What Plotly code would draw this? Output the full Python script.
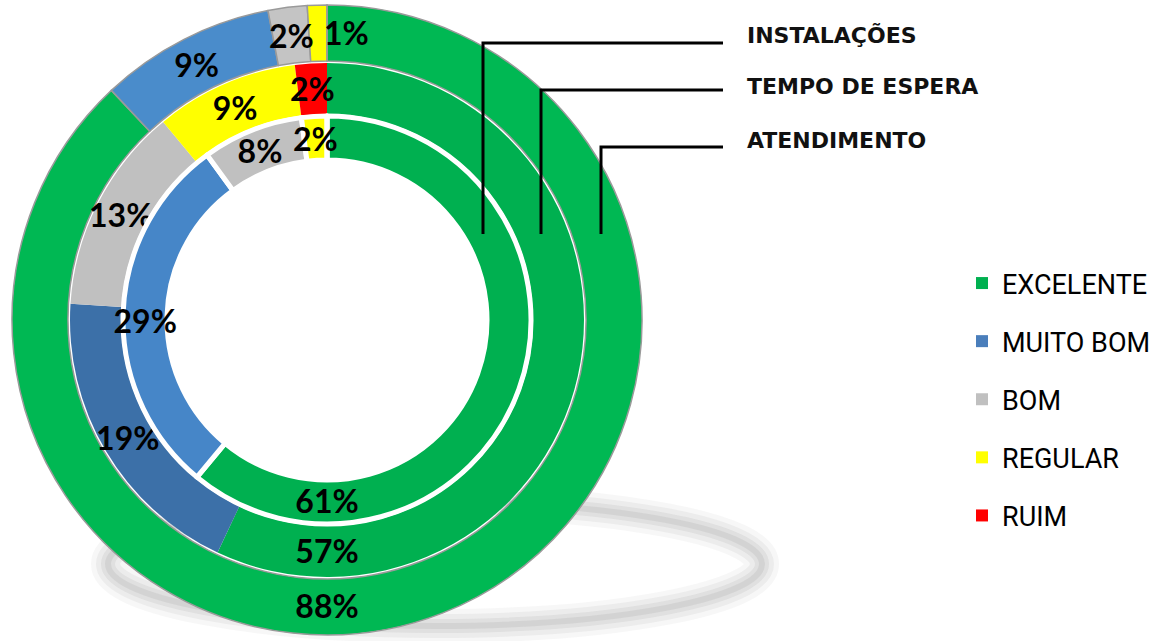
import math
import plotly.graph_objects as go

W, H = 1164, 641

categories = ["EXCELENTE", "MUITO BOM", "BOM", "REGULAR", "RUIM"]
series_names = ["INSTALAÇÕES", "TEMPO DE ESPERA", "ATENDIMENTO"]
instalacoes = [61, 29, 8, 2, 0]
tempo_espera = [57, 19, 13, 9, 2]
atendimento = [88, 9, 2, 1, 0]

legend_colors = ["#00B050", "#4A7EBB", "#C0C0C0", "#FFFF00", "#FF0000"]
inner_colors = ["#00B050", "#4686C8", "#C0C0C0", "#FFFF00", "#FF0000"]
middle_colors = ["#00B050", "#3C70A8", "#C0C0C0", "#FFFF00", "#FF0000"]
outer_colors = ["#00B853", "#4A8CCB", "#C4C4C4", "#FFFF00", "#FF0000"]

# ring geometry (pixels)
CX, CY = 327, 321  # CY measured from bottom
rings = [
    # values, colors, outer radius, hole radius, line color, line width
    (atendimento, outer_colors, 315, 259, "#9A9A9A", 1.5),
    (tempo_espera, middle_colors, 257, 206, "#00B050", 0),
    (instalacoes, inner_colors, 204, 160, "white", 5),
]
SMALL = 5
label_font = dict(family="Lato", size=32, color="black", weight="bold")


def px_dom(r):
    return dict(x=[(CX - r) / W, (CX + r) / W], y=[(CY - r) / H, (CY + r) / H])


fig = go.Figure()

# soft shadow ellipse (drawn below)
for w, a in [(34, 0.06), (24, 0.08), (14, 0.10), (6, 0.12)]:
    fig.add_shape(type="circle", xref="paper", yref="paper",
                  x0=108 / W, x1=762 / W, y0=1 - 626 / H, y1=1 - 502 / H,
                  line=dict(color=f"rgba(120,120,120,{a})", width=w), layer="below")

for vals, cols, R, Rh, lc, lw in rings:
    total = sum(vals)
    fig.add_trace(go.Pie(
        labels=categories, values=vals, sort=False, direction="clockwise",
        rotation=0, hole=Rh / R, domain=px_dom(R),
        marker=dict(colors=cols, line=dict(color=lc, width=lw)),
        text=[f"{v}%" if v > 0 else "" for v in vals], textinfo="text",
        textposition=["inside" if v >= SMALL else "none" for v in vals],
        insidetextorientation="horizontal",
        textfont=label_font,
        hoverinfo="label+value", showlegend=False,
    ))
    # labels of thin slices: at the slice's mid angle, mid radius
    cum = 0
    rm = (R + Rh) / 2
    for v in vals:
        if 0 < v < SMALL:
            tiny = v <= 1
            frac = (cum + v) / total if tiny else (cum + v / 2) / total
            ang = 2 * math.pi * frac
            x = CX + rm * math.sin(ang)
            y = CY + rm * math.cos(ang)
            fig.add_annotation(x=x / W, y=y / H, xref="paper", yref="paper",
                               text=f"{v}%", showarrow=False,
                               xanchor="left" if tiny else "center",
                               xshift=-5 if tiny else 0,
                               yanchor="middle", font=label_font)
        cum += v

# legend via dummy traces
for cat, col in zip(categories, legend_colors):
    fig.add_trace(go.Scatter(
        x=[None], y=[None], mode="markers", name=cat, legendgroup=cat,
        marker=dict(symbol="square", size=8, color=col),
    ))

# series labels with leader lines
label_y = [36, 86, 140]
line_y = [43, 90, 147]
line_x = [483, 541, 601]
for name, ly, hy, vx in zip(series_names, label_y, line_y, line_x):
    fig.add_annotation(x=745 / W, y=1 - ly / H, xref="paper", yref="paper",
                       text=name, showarrow=False, xanchor="left", yanchor="middle",
                       font=dict(family="DejaVu Sans", size=22, color="#111111", weight="bold"))
    fig.add_shape(type="path", xref="paper", yref="paper",
                  path=f"M {723 / W} {1 - hy / H} L {vx / W} {1 - hy / H} L {vx / W} {1 - 234 / H}",
                  line=dict(color="black", width=3))

fig.update_layout(
    width=W, height=H, margin=dict(l=0, r=0, t=0, b=0),
    paper_bgcolor="white", plot_bgcolor="white",
    xaxis=dict(visible=False), yaxis=dict(visible=False),
    uniformtext=dict(minsize=32, mode="show"),
    legend=dict(x=962 / W, y=1 - 259 / H, xanchor="left", yanchor="top",
                font=dict(family="Roboto", size=27, color="black"),
                tracegroupgap=20, traceorder="grouped", itemsizing="constant",
                bgcolor="rgba(0,0,0,0)"),
)

fig.write_html("out.html", config={"displayModeBar": False},
               post_script="document.body.style.margin='0px';")
